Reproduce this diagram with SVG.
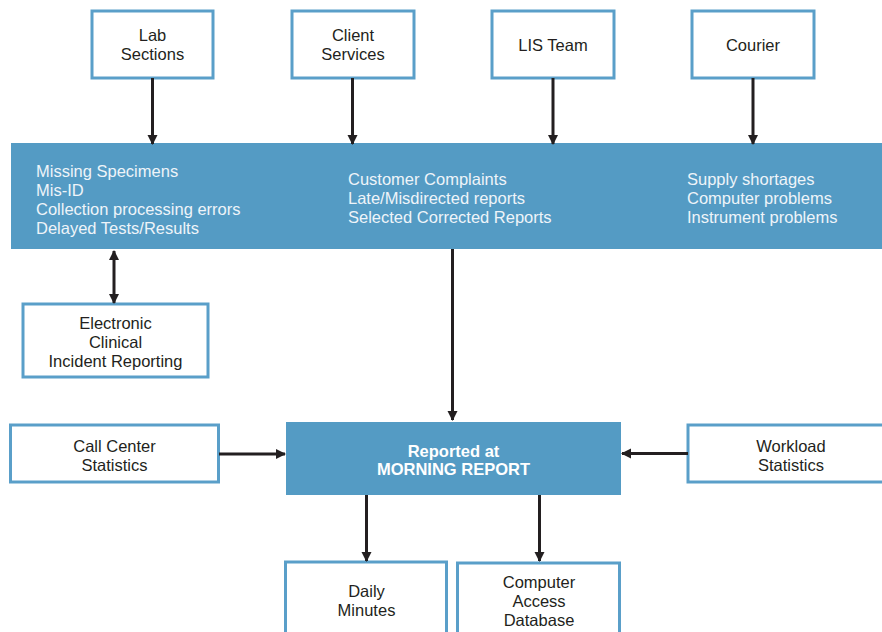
<svg xmlns="http://www.w3.org/2000/svg" width="882" height="632" viewBox="0 0 882 632">
<defs>
<marker id="ah" viewBox="0 0 10 10" refX="9" refY="5" markerWidth="3.4" markerHeight="3.4" orient="auto-start-reverse" markerUnits="strokeWidth">
<path d="M0,0 L10,5 L0,10 z" fill="#231f20"/>
</marker>
<style>
.box{fill:#ffffff;stroke:#5a9fc9;stroke-width:3}
.fill{fill:#549bc4}
.t{font-family:"Liberation Sans",Arial,sans-serif;font-size:16.5px;fill:#231f20;text-anchor:middle}
.w{font-family:"Liberation Sans",Arial,sans-serif;font-size:16.5px;fill:#eef4f9}
.b{font-family:"Liberation Sans",Arial,sans-serif;font-size:16.5px;font-weight:bold;fill:#ffffff;text-anchor:middle}
.c{stroke:#231f20;stroke-width:3;fill:none;marker-end:url(#ah)}
</style>
</defs>
<rect width="882" height="632" fill="#ffffff"/>

<g id="lab-sections">
<rect class="box" x="92" y="11" width="121" height="67"/>
<text class="t" x="152.5" y="41">Lab</text>
<text class="t" x="152.5" y="60">Sections</text>
</g>
<g id="client-services">
<rect class="box" x="292" y="11" width="122" height="67"/>
<text class="t" x="353" y="41">Client</text>
<text class="t" x="353" y="60">Services</text>
</g>
<g id="lis-team">
<rect class="box" x="492" y="11" width="122" height="67"/>
<text class="t" x="553" y="51">LIS Team</text>
</g>
<g id="courier">
<rect class="box" x="692" y="11" width="122" height="67"/>
<text class="t" x="753" y="51">Courier</text>
</g>

<g id="issues">
<rect class="fill" x="11" y="143" width="871" height="106"/>
<text class="w" x="36" y="177">Missing Specimens</text>
<text class="w" x="36" y="196">Mis-ID</text>
<text class="w" x="36" y="215">Collection processing errors</text>
<text class="w" x="36" y="234">Delayed Tests/Results</text>
<text class="w" x="348" y="185">Customer Complaints</text>
<text class="w" x="348" y="204">Late/Misdirected reports</text>
<text class="w" x="348" y="223">Selected Corrected Reports</text>
<text class="w" x="687" y="185">Supply shortages</text>
<text class="w" x="687" y="204">Computer problems</text>
<text class="w" x="687" y="223">Instrument problems</text>
</g>

<g id="incident-reporting">
<rect class="box" x="23" y="304" width="185" height="73"/>
<text class="t" x="115.5" y="329">Electronic</text>
<text class="t" x="115.5" y="348">Clinical</text>
<text class="t" x="115.5" y="367">Incident Reporting</text>
</g>

<g id="call-center">
<rect class="box" x="10.5" y="425" width="208" height="57"/>
<text class="t" x="114.5" y="452">Call Center</text>
<text class="t" x="114.5" y="471">Statistics</text>
</g>

<g id="morning-report">
<rect class="fill" x="286" y="422" width="335" height="73"/>
<text class="b" x="453.5" y="457">Reported at</text>
<text class="b" x="453.5" y="475">MORNING REPORT</text>
</g>

<g id="workload">
<rect class="box" x="688" y="425" width="200" height="57"/>
<text class="t" x="791" y="452">Workload</text>
<text class="t" x="791" y="471">Statistics</text>
</g>

<g id="daily-minutes">
<rect class="box" x="285.5" y="562" width="161" height="80"/>
<text class="t" x="366.5" y="597">Daily</text>
<text class="t" x="366.5" y="616">Minutes</text>
</g>

<g id="access-database">
<rect class="box" x="457.5" y="563" width="162" height="80"/>
<text class="t" x="539" y="588">Computer</text>
<text class="t" x="539" y="607">Access</text>
<text class="t" x="539" y="626">Database</text>
</g>

<g id="connectors">
<line class="c" x1="152.5" y1="78" x2="152.5" y2="144"/>
<line class="c" x1="352.5" y1="78" x2="352.5" y2="144"/>
<line class="c" x1="553" y1="78" x2="553" y2="144"/>
<line class="c" x1="753" y1="78" x2="753" y2="144"/>
<line class="c" x1="114" y1="251" x2="114" y2="303" style="marker-start:url(#ah)"/>
<line class="c" x1="452.5" y1="249" x2="452.5" y2="420"/>
<line class="c" x1="219" y1="454" x2="285" y2="454"/>
<line class="c" x1="688" y1="453.5" x2="622" y2="453.5"/>
<line class="c" x1="366.5" y1="495" x2="366.5" y2="561"/>
<line class="c" x1="539.5" y1="495" x2="539.5" y2="561"/>
</g>
</svg>
